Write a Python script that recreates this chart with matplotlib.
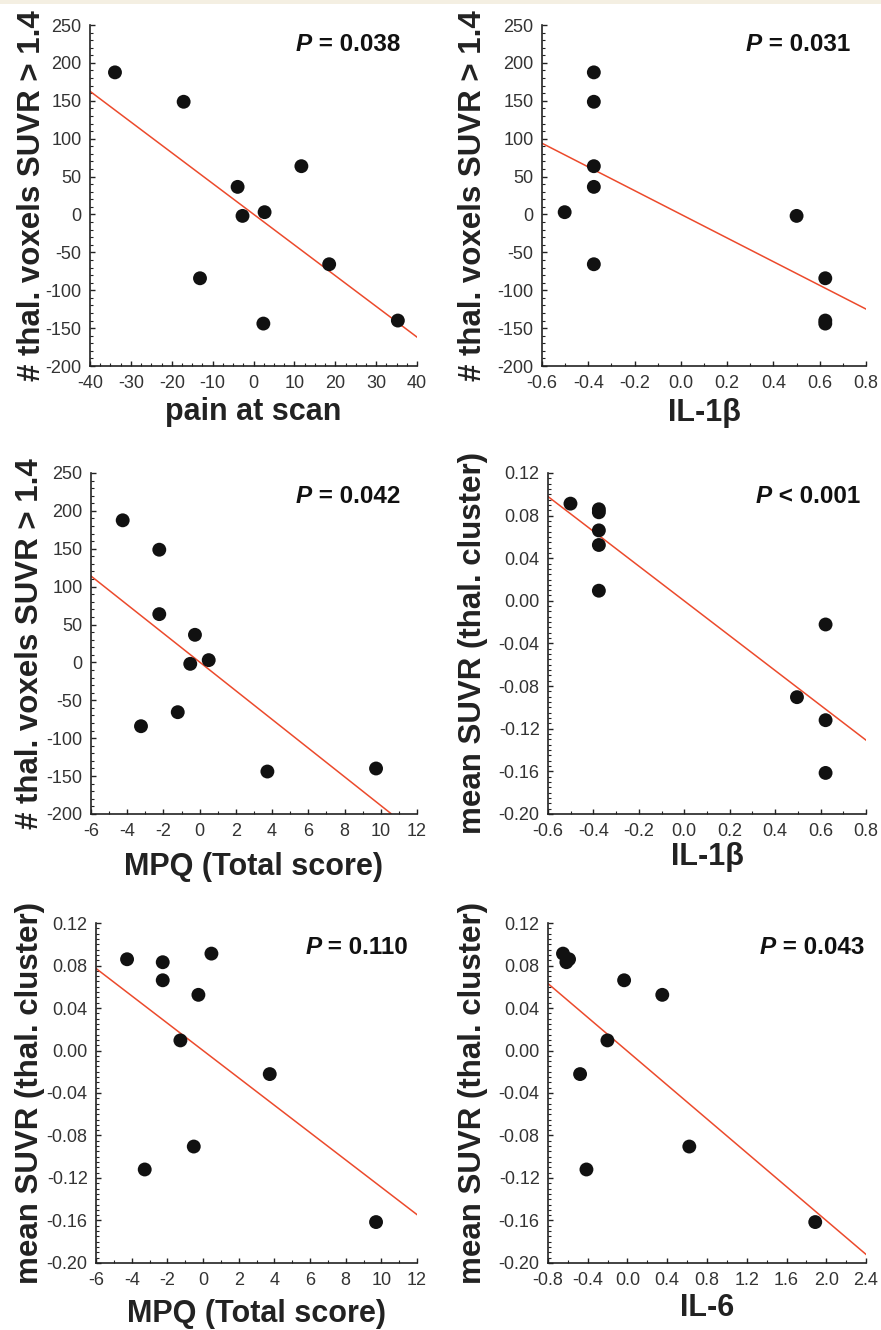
import numpy as np
import matplotlib.pyplot as plt
from matplotlib.ticker import MultipleLocator, AutoMinorLocator
from matplotlib.patches import Rectangle

plt.rcParams["font.family"] = ["Liberation Sans", "DejaVu Sans"]
plt.rcParams["axes.unicode_minus"] = False

# данные (10 пациентов)
voxels = [187.5, 148.7, 63.7, 36.4, -1.9, 3.0, -65.7, -84.2, -144.0, -140.0]
pain_at_scan = [-33.9, -17.1, 11.7, -3.9, -2.7, 2.7, 18.5, -13.1, 2.4, 35.3]
il1b_vox = [-0.376, -0.376, -0.376, -0.376, 0.500, -0.502, -0.376, 0.624, 0.624, 0.624]
mpq_vox = [-4.25, -2.23, -2.23, -0.26, -0.52, 0.50, -1.21, -3.24, 3.74, 9.74]

suvr = [0.0859, 0.0831, 0.0661, 0.0912, 0.0524, 0.0095, -0.0222, -0.0904, -0.1120, -0.1615]
il1b_suvr = [-0.376, -0.376, -0.376, -0.501, -0.376, -0.376, 0.622, 0.496, 0.622, 0.622]
mpq_suvr = [-4.26, -2.26, -2.26, 0.47, -0.26, -1.27, 3.74, -0.52, -3.27, 9.70]
il6_suvr = [-0.588, -0.615, -0.034, -0.649, 0.350, -0.202, -0.477, 0.622, -0.413, 1.889]

p_labels = ["= 0.038", "= 0.031", "= 0.042", "< 0.001", "= 0.110", "= 0.043"]

VOX_LABEL = "# thal. voxels SUVR > 1.4"
SUVR_LABEL = "mean SUVR (thal. cluster)"

panels = [
    # x, y, xlabel, ylabel, xlim, xstep, xminor, ylim, ystep, yminor
    (pain_at_scan, voxels, "pain at scan", VOX_LABEL, (-40, 40), 10, 4, (-200, 250), 50, 5),
    (il1b_vox, voxels, "IL-1β", VOX_LABEL, (-0.6, 0.8), 0.2, 2, (-200, 250), 50, 5),
    (mpq_vox, voxels, "MPQ (Total score)", VOX_LABEL, (-6, 12), 2, 2, (-200, 250), 50, 5),
    (il1b_suvr, suvr, "IL-1β", SUVR_LABEL, (-0.6, 0.8), 0.2, 2, (-0.20, 0.12), 0.04, 8),
    (mpq_suvr, suvr, "MPQ (Total score)", SUVR_LABEL, (-6, 12), 2, 2, (-0.20, 0.12), 0.04, 8),
    (il6_suvr, suvr, "IL-6", SUVR_LABEL, (-0.8, 2.4), 0.4, 2, (-0.20, 0.12), 0.04, 8),
]

# положение осей [left, bottom, width, height] и подписей
rects = [
    [0.1022, 0.7248, 0.3712, 0.2564],
    [0.6152, 0.7248, 0.3678, 0.2564],
    [0.1033, 0.3880, 0.3700, 0.2564],
    [0.6220, 0.3880, 0.3610, 0.2564],
    [0.1090, 0.0504, 0.3644, 0.2556],
    [0.6220, 0.0504, 0.3610, 0.2556],
]
ylabel_x = [-0.177, -0.213, -0.187, -0.236, -0.206, -0.236]
xlabel_y = [-0.135, -0.138, -0.155, -0.126, -0.150, -0.132]
p_pos = [(0.948, 0.924), (0.950, 0.924), (0.948, 0.912),
         (0.981, 0.912), (0.972, 0.909), (0.994, 0.909)]


def fmt_fixed(digits):
    def _f(v, pos):
        if abs(v) < 1e-9:
            v = 0.0
        return f"{v:.{digits}f}"
    return _f


fig = plt.figure(figsize=(8.81, 13.30), dpi=100)
fig.patches.append(Rectangle((0, 1 - 4 / 1330), 1, 4 / 1330, transform=fig.transFigure,
                             facecolor="#f4efe2", edgecolor="none", zorder=0))

text_color = "#222222"

for i, (x, y, xl, yl, xlim, xstep, xmin, ylim, ystep, ymin) in enumerate(panels):
    ax = fig.add_axes(rects[i])
    x = np.asarray(x)
    y = np.asarray(y)

    ax.scatter(x, y, s=100, color="#111111", edgecolor="none", zorder=3)

    slope, intercept = np.polyfit(x, y, 1)
    xs = np.linspace(xlim[0], xlim[1], 400)
    ys = slope * xs + intercept
    keep = (ys >= ylim[0]) & (ys <= ylim[1])
    ax.plot(xs[keep], ys[keep], color="#ec4a2c", linewidth=1.1, zorder=2)

    ax.set_xlim(*xlim)
    ax.set_ylim(*ylim)
    ax.xaxis.set_major_locator(MultipleLocator(xstep))
    ax.yaxis.set_major_locator(MultipleLocator(ystep))
    ax.xaxis.set_minor_locator(AutoMinorLocator(xmin))
    ax.yaxis.set_minor_locator(AutoMinorLocator(ymin))

    if ystep < 1:
        ax.yaxis.set_major_formatter(fmt_fixed(2))
    if xstep < 1:
        ax.xaxis.set_major_formatter(fmt_fixed(1))

    ax.spines["top"].set_visible(False)
    ax.spines["right"].set_visible(False)
    for side in ("left", "bottom"):
        ax.spines[side].set_linewidth(1.2)
        ax.spines[side].set_color(text_color)
    ax.tick_params(which="major", direction="in", length=3.5, width=1.0,
                   color=text_color, labelsize=13, labelcolor="#333333")
    ax.tick_params(axis="y", which="major", pad=6)
    ax.tick_params(axis="x", which="major", pad=6.5)
    ax.tick_params(which="minor", direction="in", length=2.5, width=0.8, color=text_color)

    ax.set_xlabel(xl, fontsize=22, fontweight="bold", color=text_color, va="center")
    ax.xaxis.set_label_coords(0.5, xlabel_y[i])
    ax.set_ylabel(yl, fontsize=22.5, fontweight="bold", color=text_color, va="center")
    ax.yaxis.set_label_coords(ylabel_x[i], 0.5)

    px, py = p_pos[i]
    rest = ax.text(px, py, " " + p_labels[i], transform=ax.transAxes, ha="right",
                   va="baseline", fontsize=17.5, fontweight="bold", color="#111111")
    ax.annotate("P", xy=(0, 0), xycoords=rest, ha="right", va="bottom",
                fontsize=17.5, fontweight="bold", fontstyle="italic", color="#111111")

fig.savefig("out.png", dpi=100)
